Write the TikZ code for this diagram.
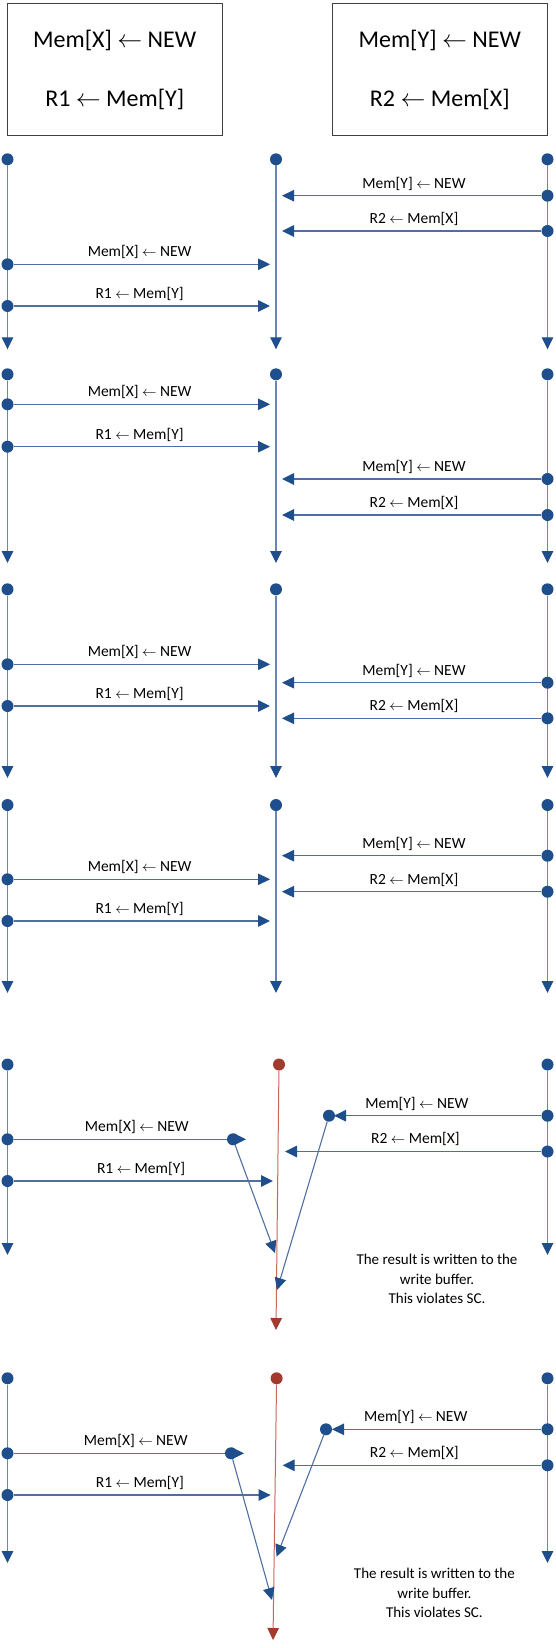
\documentclass[tikz,border=0pt]{standalone}
\usepackage{fontspec}
\setmainfont{Carlito}
\usepackage{tikz}
\usetikzlibrary{arrows.meta,calc}
\definecolor{lineblue}{HTML}{6A86B4}
\definecolor{msgblue}{HTML}{4F6FA3}
\definecolor{dotblue}{HTML}{1F4E8C}
\definecolor{linered}{HTML}{C9655C}
\definecolor{dotred}{HTML}{A33A2E}
\newcommand{\larr}{$\leftarrow$}
\newcommand{\wrX}{Mem[X] \larr{} NEW}
\newcommand{\rdY}{R1 \larr{} Mem[Y]}
\newcommand{\wrY}{Mem[Y] \larr{} NEW}
\newcommand{\rdX}{R2 \larr{} Mem[X]}

\begin{document}
\begin{tikzpicture}[
    x=1pt, y=-1pt,
    dot/.style={circle, fill=dotblue, inner sep=0pt, minimum size=12pt},
    rdot/.style={dot, fill=dotred},
    life/.style={draw=lineblue, line width=1.2pt, -{Triangle[length=12pt, width=11.5pt, color=dotblue]}},
    rlife/.style={draw=linered, line width=1pt, -{Triangle[length=12pt, width=11.5pt, color=dotred]}},
    wbuf/.style={draw=msgblue, line width=1.1pt, -{Triangle[length=12pt, width=11.5pt, color=dotblue]}},
    msg/.style={wbuf, shorten >=6pt},
    lbl/.style={font=\fontsize{15.5}{18}\selectfont, inner sep=0pt, above=5pt},
    prog/.style={draw=black!75, line width=1pt, minimum width=214.5pt, minimum height=131.7pt, align=center, font=\fontsize{24}{58.6}\selectfont},
    note/.style={align=center, inner sep=0pt, font=\fontsize{15}{19.5}\selectfont}
]
\useasboundingbox (0,0) rectangle (555,1648);

\node[prog] (P1) at (114.75,69.85) {\wrX\\\rdY};
\node[prog] (P2) at (439.75,69.85) {\wrY\\\rdX};

% the four sequentially consistent orders
\foreach \p/\top/\bot/\wx/\ry/\wy/\rx in {1/159.3/349.3/264.3/306/195.7/231,
    2/374.3/563/404.3/446.7/479/515,
    3/589.3/778/664.3/706/682.7/718.3,
    4/805/993/879.3/921/855.7/891.7}{
  \node[dot] (L\p) at (7.5,\top) {};
  \node[dot] (M\p) at (276,\top) {};
  \node[dot] (R\p) at (547.5,\top) {};
  \coordinate (L\p e) at (7.5,\bot);
  \coordinate (M\p e) at (276,\bot);
  \coordinate (R\p e) at (547.5,\bot);
  \draw[life] (L\p) -- (L\p e);
  \draw[life] (M\p) -- (M\p e);
  \draw[life] (R\p) -- (R\p e);
  \node[dot] (wx\p) at (7.5,\wx) {};
  \node[dot] (ry\p) at (7.5,\ry) {};
  \node[dot] (wy\p) at (547.5,\wy) {};
  \node[dot] (rx\p) at (547.5,\rx) {};
  \draw[msg] (wx\p) -- (wx\p -| M\p) node[lbl, pos=.48] {\wrX};
  \draw[msg] (ry\p) -- (ry\p -| M\p) node[lbl, pos=.48] {\rdY};
  \draw[msg] (wy\p) -- (wy\p -| M\p) node[lbl, pos=.48] {\wrY};
  \draw[msg] (rx\p) -- (rx\p -| M\p) node[lbl, pos=.48] {\rdX};
}

% write buffer, case 5
\node[dot] (L5) at (7.5,1064.5) {};
\node[rdot] (M5) at (279,1064.5) {};
\node[dot] (R5) at (547.5,1064.5) {};
\coordinate (L5e) at (7.5,1255);
\coordinate (M5e) at (276,1330);
\coordinate (R5e) at (547.5,1255);
\draw[life] (L5) -- (L5e);
\draw[rlife] (M5) -- (M5e);
\draw[life] (R5) -- (R5e);
\node[dot] (wx5) at (7.5,1139.3) {};
\node[dot] (ry5) at (7.5,1181) {};
\node[dot] (wy5) at (547.5,1115.7) {};
\node[dot] (rx5) at (547.5,1151.5) {};
\coordinate (bx5) at (246,1139.3);
\coordinate (by5) at (334,1115.7);
\draw[wbuf] (wx5) -- (bx5) node[lbl, pos=.53] {\wrX};
\draw[wbuf] (wy5) -- (by5) node[lbl, pos=.6] {\wrY};
\draw[msg] (ry5) -- (ry5 -| M5) node[lbl, pos=.48] {\rdY};
\draw[msg] (rx5) -- (rx5 -| M5) node[lbl, pos=.48] {\rdX};
\node[dot] (fx5) at (233,1139.3) {};
\node[dot] (fy5) at (329,1115.7) {};
\coordinate (sx5) at (275,1253);
\coordinate (sy5) at (277,1290);
\draw[wbuf] (fx5) -- (sx5);
\draw[wbuf] (fy5) -- (sy5);
\node[note] (n5) at (437,1279) {The result is written to the\\write buffer.\\This violates SC.};

% write buffer, case 6
\node[dot] (L6) at (7.5,1378.3) {};
\node[rdot] (M6) at (276.6,1378.3) {};
\node[dot] (R6) at (547.5,1378.3) {};
\coordinate (L6e) at (7.5,1563);
\coordinate (M6e) at (273,1640);
\coordinate (R6e) at (547.5,1563);
\draw[life] (L6) -- (L6e);
\draw[rlife] (M6) -- (M6e);
\draw[life] (R6) -- (R6e);
\node[dot] (wx6) at (7.5,1453.3) {};
\node[dot] (ry6) at (7.5,1495) {};
\node[dot] (wy6) at (547.5,1429.3) {};
\node[dot] (rx6) at (547.5,1465.3) {};
\coordinate (bx6) at (244,1453.3);
\coordinate (by6) at (332,1429.3);
\draw[wbuf] (wx6) -- (bx6) node[lbl, pos=.53] {\wrX};
\draw[wbuf] (wy6) -- (by6) node[lbl, pos=.6] {\wrY};
\draw[msg] (ry6) -- (ry6 -| M6) node[lbl, pos=.48] {\rdY};
\draw[msg] (rx6) -- (rx6 -| M6) node[lbl, pos=.48] {\rdX};
\node[dot] (fx6) at (231,1453.3) {};
\node[dot] (fy6) at (326,1429.3) {};
\coordinate (sx6) at (272,1600);
\coordinate (sy6) at (276.6,1556.7);
\draw[wbuf] (fx6) -- (sx6);
\draw[wbuf] (fy6) -- (sy6);
\node[note] (n6) at (434.4,1593) {The result is written to the\\write buffer.\\This violates SC.};
\end{tikzpicture}
\end{document}
